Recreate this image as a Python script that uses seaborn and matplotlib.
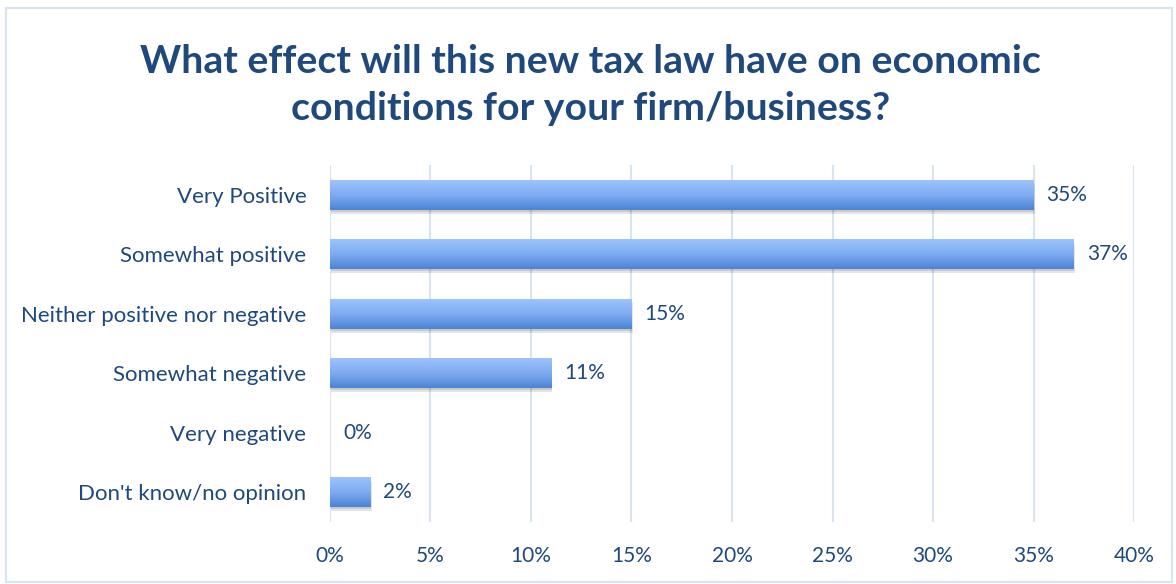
import numpy as np
import pandas as pd
import matplotlib
matplotlib.use("Agg")
import matplotlib.pyplot as plt
import matplotlib.patheffects as pe
from matplotlib.patches import Rectangle
from matplotlib.colors import LinearSegmentedColormap
import seaborn as sns

categories = [
    "Very Positive",
    "Somewhat positive",
    "Neither positive nor negative",
    "Somewhat negative",
    "Very negative",
    "Don't know/no opinion",
]
shares = [35, 37, 15, 11, 0, 2]
x_ticks = [0, 5, 10, 15, 20, 25, 30, 35, 40]
title = "What effect will this new tax law have on economic\nconditions for your firm/business?"

text_color = "#1F497D"
grid_color = "#D9E4F2"

sns.set_theme(style="white")
plt.rcParams["font.family"] = ["Lato", "DejaVu Sans"]

df = pd.DataFrame({"response": categories, "share": shares})

fig = plt.figure(figsize=(11.76, 5.84), dpi=100)
ax = fig.add_axes([0.2806, 0.1062, 0.6837, 0.6113])

sns.barplot(data=df, x="share", y="response", orient="h", width=0.5,
            color="#6FA0E8", ax=ax, zorder=3)

# gradient fill on each bar, with a soft drop shadow underneath
grad = LinearSegmentedColormap.from_list("bar", ["#9CC3FF", "#7EABF0", "#4A84D4"])
gradient = np.linspace(0, 1, 256).reshape(-1, 1)
for patch in ax.patches:
    x0, y0 = patch.get_x(), patch.get_y()
    w, h = patch.get_width(), patch.get_height()
    if w <= 0:
        patch.set_visible(False)
        continue
    patch.set_linewidth(0)
    patch.set_path_effects([
        pe.SimplePatchShadow(offset=(1, -3), shadow_rgbFace="#000000", alpha=0.10),
        pe.SimplePatchShadow(offset=(0.5, -1.5), shadow_rgbFace="#000000", alpha=0.12),
        pe.Normal()])
    im = ax.imshow(gradient, cmap=grad, aspect="auto",
                   extent=[x0, x0 + w, y0 + h, y0], zorder=4, interpolation="bilinear")
    im.set_clip_path(patch)

for i, val in enumerate(shares):
    ax.text(val + 0.65, i, f"{val}%", va="center", ha="left",
            fontsize=15, color=text_color, zorder=5)

ax.set_xlim(0, 40)
ax.set_ylim(len(categories) - 0.5, -0.5)
ax.set_xticks(x_ticks)
ax.set_xticklabels([f"{t}%" for t in x_ticks])
ax.xaxis.grid(True, color=grid_color, linewidth=1.5, zorder=0)
ax.set_axisbelow(True)
ax.set_xlabel("")
ax.set_ylabel("")
for s in ax.spines.values():
    s.set_visible(False)
ax.tick_params(axis="x", length=0, labelsize=15, labelcolor=text_color, pad=17)
ax.tick_params(axis="y", length=0, labelsize=16, labelcolor=text_color, pad=17)

fig.text(0.502, 0.855, title, ha="center", va="center", fontsize=28.3,
         fontweight="bold", color=text_color, linespacing=1.42)

fig.patches.append(Rectangle((6 / 1176, 2 / 584), 1166 / 1176, 574 / 584,
                             transform=fig.transFigure, fill=False,
                             edgecolor=grid_color, linewidth=1.5))

fig.savefig("out.png", dpi=100)
